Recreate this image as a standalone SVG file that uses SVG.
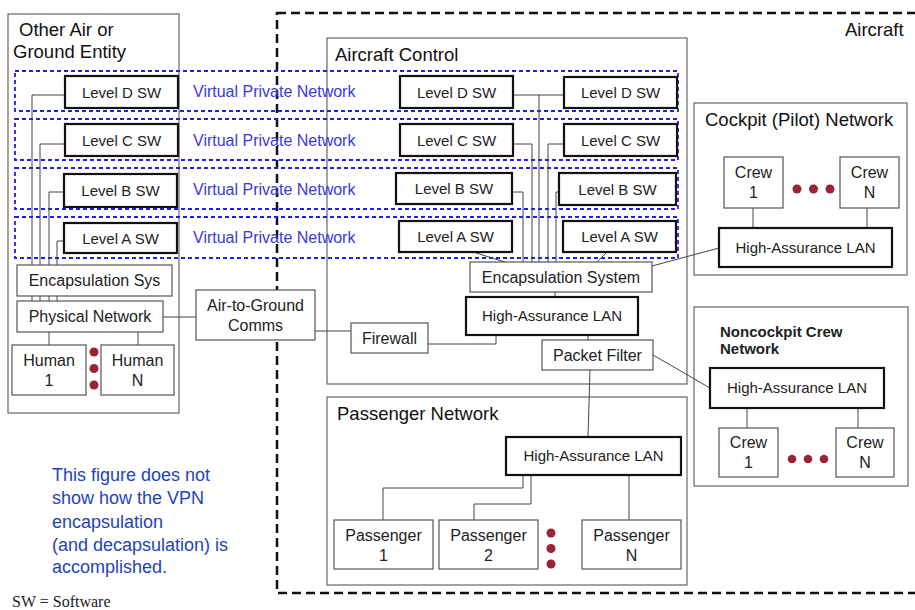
<svg xmlns="http://www.w3.org/2000/svg" width="915" height="610" viewBox="0 0 915 610">
  <style>
    .t { font-family: "Liberation Sans", Arial, sans-serif; fill: #222; }
    .c { text-anchor: middle; }
    .s15 { font-size: 15px; }
    .s16 { font-size: 16px; }
    .title { font-size: 18.5px; fill: #111; }
    .box { fill: #fff; stroke: #555; stroke-width: 1.2; }
    .thick { fill: #fff; stroke: #111; stroke-width: 2.2; }
    .frame { fill: none; stroke: #666; stroke-width: 1.2; }
    .vpn { fill: none; stroke: #1f1fe6; stroke-width: 1.8; stroke-dasharray: 4 3; }
    .air { fill: none; stroke: #111; stroke-width: 2.5; stroke-dasharray: 9 5; }
    .vpnlabel { font-family: "Liberation Sans", Arial, sans-serif; font-size: 16px; fill: #3a3adb; }
    .note { font-family: "Liberation Sans", Arial, sans-serif; font-size: 18px; fill: #2244bb; }
    .wire { fill: none; stroke: #444; stroke-width: 1; }
    .dot { fill: #9b2335; }
  </style>
  <rect width="915" height="610" fill="#fff"/>

  <!-- Aircraft boundary -->
  <g id="aircraft">
    <rect class="air" x="277" y="13" width="660" height="580"/>
    <text class="t title" x="845" y="36">Aircraft</text>
  </g>

  <!-- Enclosing network areas -->
  <g id="other-entity">
    <rect class="frame" x="8" y="14" width="171" height="399"/>
    <text class="t title" x="19" y="36">Other Air or</text>
    <text class="t title" x="13" y="58">Ground Entity</text>
  </g>
  <g id="aircraft-control">
    <rect class="frame" x="327" y="38" width="360" height="346"/>
    <text class="t title" x="335" y="61">Aircraft Control</text>
  </g>
  <g id="passenger-network">
    <rect class="frame" x="327" y="397" width="360" height="188"/>
    <text class="t title" x="337" y="420">Passenger Network</text>
  </g>
  <g id="cockpit-network">
    <rect class="frame" x="694" y="103" width="213" height="172"/>
    <text class="t title" x="705" y="126">Cockpit (Pilot) Network</text>
  </g>
  <g id="noncockpit-network">
    <rect class="frame" x="694" y="307" width="214" height="179"/>
    <text class="t" x="720" y="337" style="font-size:15px;font-weight:bold">Noncockpit Crew</text>
    <text class="t" x="720" y="354" style="font-size:15px;font-weight:bold">Network</text>
  </g>

  <!-- Virtual private network tunnels -->
  <g id="vpn-tunnels">
    <rect class="vpn" x="15" y="71" width="663" height="40"/>
    <rect class="vpn" x="15" y="119" width="663" height="41"/>
    <rect class="vpn" x="15" y="168" width="663" height="41"/>
    <rect class="vpn" x="15" y="217" width="663" height="41"/>
    <text class="vpnlabel" x="193" y="97">Virtual Private Network</text>
    <text class="vpnlabel" x="193" y="146">Virtual Private Network</text>
    <text class="vpnlabel" x="193" y="195">Virtual Private Network</text>
    <text class="vpnlabel" x="193" y="243">Virtual Private Network</text>
  </g>

  <!-- Connectors -->
  <g id="connectors">
    <path class="wire" d="M65,95 H32 V265 M32,296 V301"/>
    <path class="wire" d="M65,144 H40 V265 M40,296 V301"/>
    <path class="wire" d="M64,192 H49 V265 M49,296 V301"/>
    <path class="wire" d="M64,241 H57 V265 M57,296 V301"/>
    <path class="wire" d="M49,332 V345 M138,332 V345"/>
    <path class="wire" d="M163,317 H196"/>
    <path class="wire" d="M315,331 H351"/>
    <path class="wire" d="M428,344 H496 V335"/>
    <path class="wire" d="M513,95 H564 M539,95 V262"/>
    <path class="wire" d="M513,144 H532 V262"/>
    <path class="wire" d="M564,144 H548 V262"/>
    <path class="wire" d="M512,192 H523 V262"/>
    <path class="wire" d="M559,192 H556 V262"/>
    <path class="wire" d="M473,252 L505,262"/>
    <path class="wire" d="M607,252 L597,262"/>
    <path class="wire" d="M652,266 L719,248"/>
    <path class="wire" d="M555,292 V297"/>
    <path class="wire" d="M588,335 V340"/>
    <path class="wire" d="M590,370 L588,437"/>
    <path class="wire" d="M653,355 L710,388"/>
    <path class="wire" d="M523,475 V488 H383 V520"/>
    <path class="wire" d="M531,475 V504 H474 V520"/>
    <path class="wire" d="M629,475 V520"/>
    <path class="wire" d="M753,208 V228 M867,208 V228"/>
    <path class="wire" d="M747,408 V428 M858,408 V428"/>
  </g>

  <!-- Other air or ground entity nodes -->
  <g id="ground-level-d"><rect class="thick" x="65" y="76" width="113" height="32"/><text class="t s15 c" x="121.5" y="97.5">Level D SW</text></g>
  <g id="ground-level-c"><rect class="thick" x="65" y="124" width="113" height="32"/><text class="t s15 c" x="121.5" y="145.5">Level C SW</text></g>
  <g id="ground-level-b"><rect class="thick" x="64" y="174" width="113" height="33"/><text class="t s15 c" x="120.5" y="196">Level B SW</text></g>
  <g id="ground-level-a"><rect class="thick" x="64" y="223" width="113" height="30"/><text class="t s15 c" x="120.5" y="243.5">Level A SW</text></g>
  <g id="ground-encapsulation"><rect class="box" x="17" y="265" width="155" height="31"/><text class="t s16 c" x="94.5" y="286">Encapsulation Sys</text></g>
  <g id="ground-physical"><rect class="box" x="17" y="301" width="146" height="31"/><text class="t s16 c" x="90" y="322">Physical Network</text></g>
  <g id="human-1"><rect class="box" x="12" y="345" width="74" height="50"/><text class="t s16 c" x="49" y="366">Human</text><text class="t s16 c" x="49" y="386">1</text></g>
  <g id="human-n"><rect class="box" x="101" y="345" width="73" height="50"/><text class="t s16 c" x="137.5" y="366">Human</text><text class="t s16 c" x="137.5" y="386">N</text></g>
  <g id="human-dots"><circle class="dot" cx="94" cy="352" r="4.5"/><circle class="dot" cx="94" cy="368.5" r="4.5"/><circle class="dot" cx="94" cy="385" r="4.5"/></g>
  <g id="air-to-ground"><rect class="box" x="196" y="290" width="119" height="50"/><text class="t s16 c" x="255.5" y="311">Air-to-Ground</text><text class="t s16 c" x="255.5" y="331">Comms</text></g>

  <!-- Aircraft control nodes -->
  <g id="ac-level-d-1"><rect class="thick" x="400" y="76" width="113" height="32"/><text class="t s15 c" x="456.5" y="97.5">Level D SW</text></g>
  <g id="ac-level-d-2"><rect class="thick" x="564" y="77" width="113" height="31"/><text class="t s15 c" x="620.5" y="98">Level D SW</text></g>
  <g id="ac-level-c-1"><rect class="thick" x="400" y="124" width="113" height="32"/><text class="t s15 c" x="456.5" y="145.5">Level C SW</text></g>
  <g id="ac-level-c-2"><rect class="thick" x="564" y="124" width="113" height="32"/><text class="t s15 c" x="620.5" y="145.5">Level C SW</text></g>
  <g id="ac-level-b-1"><rect class="thick" x="396" y="173" width="116" height="31"/><text class="t s15 c" x="454" y="194">Level B SW</text></g>
  <g id="ac-level-b-2"><rect class="thick" x="559" y="173" width="117" height="32"/><text class="t s15 c" x="617.5" y="194.5">Level B SW</text></g>
  <g id="ac-level-a-1"><rect class="thick" x="399" y="221" width="113" height="31"/><text class="t s15 c" x="455.5" y="242">Level A SW</text></g>
  <g id="ac-level-a-2"><rect class="thick" x="563" y="221" width="113" height="31"/><text class="t s15 c" x="619.5" y="242">Level A SW</text></g>
  <g id="ac-encapsulation"><rect class="box" x="470" y="262" width="182" height="30"/><text class="t s16 c" x="561" y="283">Encapsulation System</text></g>
  <g id="ac-lan"><rect class="thick" x="466" y="297" width="172" height="38"/><text class="t s15 c" x="552" y="321">High-Assurance LAN</text></g>
  <g id="firewall"><rect class="box" x="351" y="323" width="77" height="30"/><text class="t s16 c" x="389.5" y="344">Firewall</text></g>
  <g id="packet-filter"><rect class="box" x="542" y="340" width="111" height="30"/><text class="t s16 c" x="597.5" y="361">Packet Filter</text></g>

  <!-- Cockpit nodes -->
  <g id="cockpit-crew-1"><rect class="box" x="724" y="157" width="59" height="51"/><text class="t s16 c" x="753.5" y="178">Crew</text><text class="t s16 c" x="753.5" y="198">1</text></g>
  <g id="cockpit-crew-n"><rect class="box" x="840" y="157" width="59" height="51"/><text class="t s16 c" x="869.5" y="178">Crew</text><text class="t s16 c" x="869.5" y="198">N</text></g>
  <g id="cockpit-dots"><circle class="dot" cx="797" cy="189" r="4.5"/><circle class="dot" cx="813.5" cy="189" r="4.5"/><circle class="dot" cx="830" cy="189" r="4.5"/></g>
  <g id="cockpit-lan"><rect class="thick" x="719" y="228" width="173" height="39"/><text class="t s15 c" x="805.5" y="253">High-Assurance LAN</text></g>

  <!-- Noncockpit crew nodes -->
  <g id="noncockpit-lan"><rect class="thick" x="710" y="368" width="174" height="40"/><text class="t s15 c" x="797" y="393">High-Assurance LAN</text></g>
  <g id="noncockpit-crew-1"><rect class="box" x="719" y="428" width="59" height="49"/><text class="t s16 c" x="748.5" y="448">Crew</text><text class="t s16 c" x="748.5" y="468">1</text></g>
  <g id="noncockpit-crew-n"><rect class="box" x="836" y="428" width="58" height="49"/><text class="t s16 c" x="865" y="448">Crew</text><text class="t s16 c" x="865" y="468">N</text></g>
  <g id="noncockpit-dots"><circle class="dot" cx="792" cy="459" r="4.3"/><circle class="dot" cx="808" cy="459" r="4.3"/><circle class="dot" cx="824" cy="459" r="4.3"/></g>

  <!-- Passenger nodes -->
  <g id="passenger-lan"><rect class="thick" x="506" y="437" width="175" height="38"/><text class="t s15 c" x="593.5" y="461">High-Assurance LAN</text></g>
  <g id="passenger-1"><rect class="box" x="334" y="520" width="99" height="49"/><text class="t s16 c" x="383.5" y="541">Passenger</text><text class="t s16 c" x="383.5" y="561">1</text></g>
  <g id="passenger-2"><rect class="box" x="439" y="520" width="99" height="49"/><text class="t s16 c" x="488.5" y="541">Passenger</text><text class="t s16 c" x="488.5" y="561">2</text></g>
  <g id="passenger-n"><rect class="box" x="582" y="520" width="99" height="49"/><text class="t s16 c" x="631.5" y="541">Passenger</text><text class="t s16 c" x="631.5" y="561">N</text></g>
  <g id="passenger-dots"><circle class="dot" cx="551" cy="533" r="4.5"/><circle class="dot" cx="551" cy="548.5" r="4.5"/><circle class="dot" cx="551" cy="564" r="4.5"/></g>

  <!-- Notes -->
  <g id="note">
    <text class="note" x="52" y="481">This figure does not</text>
    <text class="note" x="52" y="504">show how the VPN</text>
    <text class="note" x="52" y="528">encapsulation</text>
    <text class="note" x="52" y="551">(and decapsulation) is</text>
    <text class="note" x="52" y="573">accomplished.</text>
  </g>
  <text x="12" y="607" style="font-family:'Liberation Serif','Times New Roman',serif;font-size:16px;fill:#222">SW = Software</text>
</svg>
